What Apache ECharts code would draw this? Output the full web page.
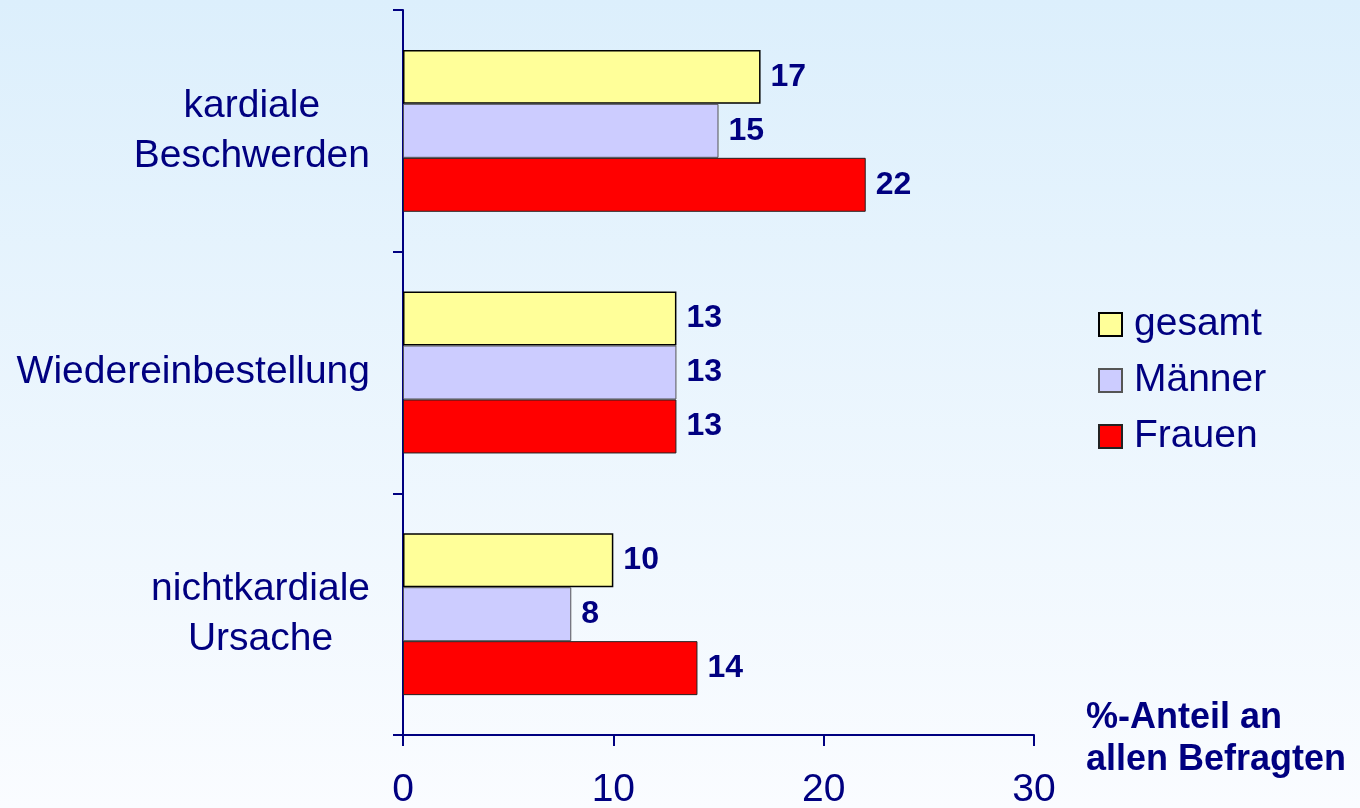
<!DOCTYPE html>
<html>
<head>
<meta charset="utf-8">
<script src="https://cdn.jsdelivr.net/npm/echarts@6/dist/echarts.min.js"></script>
<style>
html,body{margin:0;padding:0;}
#chart{width:1360px;height:808px;}
</style>
</head>
<body>
<div id="chart"></div>
<script>
const categories = ['kardiale\nBeschwerden', 'Wiedereinbestellung', 'nichtkardiale\nUrsache'];
const seriesNames = ['gesamt', 'Männer', 'Frauen'];
const gesamt = [17, 13, 10];
const maenner = [15, 13, 8];
const frauen = [22, 13, 14];
const xTicks = [0, 10, 20, 30];
const axisTitle = '%-Anteil an\nallen Befragten';

const NAVY = '#000080';
const FONT = '"Liberation Sans", Arial, sans-serif';

const chart = echarts.init(document.getElementById('chart'));
const styles = [
  {color: '#FFFF99', borderColor: '#000000', borderWidth: 1.5},
  {color: '#CCCCFF', borderColor: '#555555', borderWidth: 1},
  {color: '#FF0000', borderColor: '#222222', borderWidth: 1}
];
const values = [gesamt, maenner, frauen];

chart.setOption({
  backgroundColor: {
    type: 'linear', x: 0, y: 0, x2: 0, y2: 1,
    colorStops: [{offset: 0, color: '#DCEFFC'}, {offset: 1, color: '#FAFCFF'}]
  },
  animation: false,
  textStyle: {fontFamily: FONT},
  title: {
    text: axisTitle,
    left: 1081,
    top: 692,
    textStyle: {fontSize: 36, fontWeight: 'bold', color: NAVY, lineHeight: 42, fontFamily: FONT}
  },
  grid: {left: 403, right: 326, top: 10, bottom: 73, containLabel: false, outerBoundsMode: 'none'},
  legend: {
    orient: 'vertical',
    left: 1093,
    top: 300,
    itemWidth: 23,
    itemHeight: 23,
    itemGap: 17,
    icon: 'rect',
    data: seriesNames,
    textStyle: {fontSize: 39, color: NAVY, fontFamily: FONT, lineHeight: 38, padding: [0, 0, 0, 7]}
  },
  xAxis: {
    type: 'value',
    min: xTicks[0],
    max: xTicks[xTicks.length - 1],
    interval: 10,
    splitLine: {show: false},
    axisLine: {show: true, lineStyle: {color: NAVY, width: 2}},
    axisTick: {show: true, length: 11, lineStyle: {color: NAVY, width: 2}},
    axisLabel: {fontSize: 39, color: NAVY, margin: 36, fontFamily: FONT}
  },
  yAxis: {
    type: 'category',
    data: categories,
    inverse: true,
    axisLine: {show: true, lineStyle: {color: NAVY, width: 2}},
    axisTick: {show: true, length: 10, lineStyle: {color: NAVY, width: 2}},
    axisLabel: {
      margin: 33,
      color: NAVY,
      formatter: v => v.split('\n').map(l => '{c|' + l + '}').join('\n'),
      rich: {c: {fontSize: 39, color: NAVY, align: 'center', lineHeight: 50, fontFamily: FONT}}
    }
  },
  series: seriesNames.map((n, i) => ({
    name: n,
    type: 'bar',
    data: values[i],
    barGap: '0%',
    barCategoryGap: '33%',
    itemStyle: styles[i],
    label: {
      show: true, position: 'right', distance: 10,
      fontSize: 32, fontWeight: 'bold', color: NAVY, fontFamily: FONT
    }
  }))
});
</script>
</body>
</html>
